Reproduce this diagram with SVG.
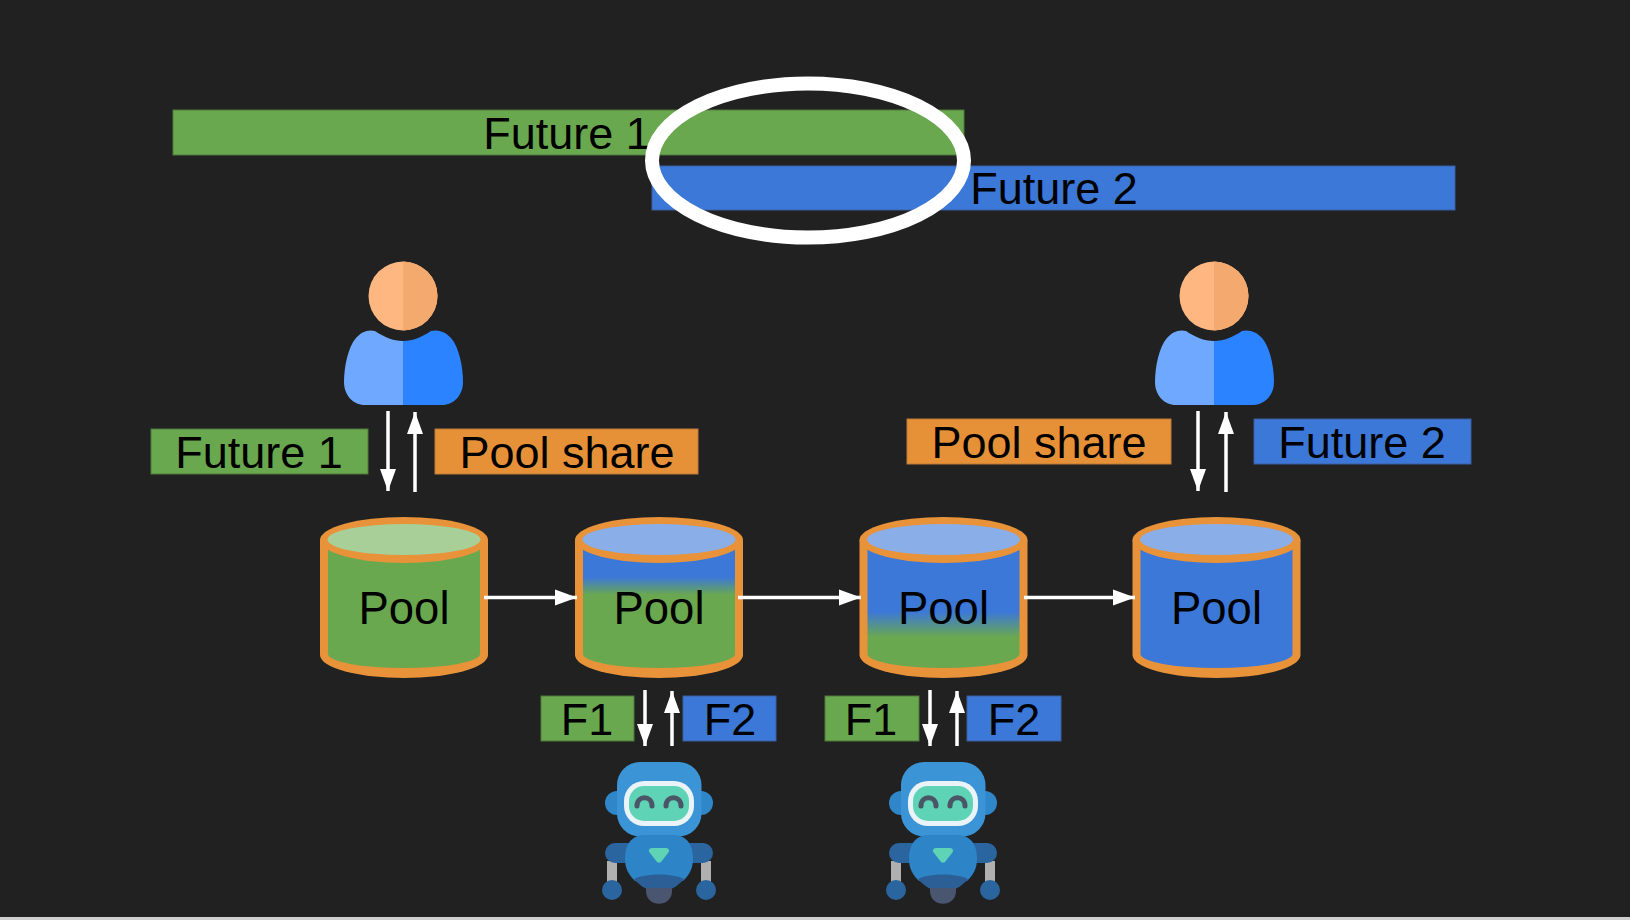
<svg xmlns="http://www.w3.org/2000/svg" width="1630" height="920" viewBox="0 0 1630 920">
  <style>
    text { font-family: "Liberation Sans", Arial, sans-serif; font-size: 45px; fill: #000; text-anchor: middle; }
    text.tank-name { font-size: 45.500px; }
    .green { fill: #6aa84f; stroke: #4f7a3d; stroke-width: 1; }
    .blue { fill: #3c78d8; stroke: #3a5f9c; stroke-width: 1; }
    .orange { fill: #e69138; stroke: #b97a36; stroke-width: 1; }
    .link { stroke: #fff; stroke-width: 3.500; fill: none; }
  </style>
  <defs>
    <marker id="head" markerUnits="userSpaceOnUse" markerWidth="24" markerHeight="18" refX="22" refY="8" orient="auto" overflow="visible">
      <path d="M0 0 L22 8 L0 16 Z" fill="#fff"/>
    </marker>
    <linearGradient id="blueOverGreen" x1="0" y1="0" x2="0" y2="1">
      <stop offset="0.29" stop-color="#3c78d8"/>
      <stop offset="0.43" stop-color="#6aa84f"/>
    </linearGradient>
    <linearGradient id="blueLowGreen" x1="0" y1="0" x2="0" y2="1">
      <stop offset="0.56" stop-color="#3c78d8"/>
      <stop offset="0.76" stop-color="#6aa84f"/>
    </linearGradient>
    <!-- Tank shell, drawn around a centre at x=0 with the lid at y=0 -->
    <path id="tank-shell" d="M-84 0 V115 A84 23 0 0 0 84 115 V0 Z" fill="#e8923a"/>
    <path id="tank-body" d="M-76 0 V114 A76 14 0 0 0 76 114 V0 Z"/>
    <g id="tank-lid">
      <ellipse cx="0" cy="0" rx="84" ry="23" fill="#e8923a"/>
    </g>
    <g id="person">
      <circle cx="0" cy="0" r="34.500" fill="#ffb782"/>
      <path d="M0 -34.500 A34.500 34.500 0 0 1 0 34.500 Z" fill="#f4a96e"/>
      <path d="M0 45 C-10 45 -19 41 -28 35 C-35 33 -42 36 -47 42 C-55 51 -59 71 -59 86 C-59 99 -50 109 -38 109 L0 109 Z" fill="#6ea8ff"/>
      <path d="M0 45 C10 45 19 41 28 35 C35 33 43 36 48 42 C56 51 60 71 60 86 C60 99 51 109 39 109 L0 109 Z" fill="#2b83ff"/>
    </g>
    <g id="robot">
      <circle cx="-42" cy="-36" r="12" fill="#2f86c8"/>
      <circle cx="42" cy="-36" r="12" fill="#2f86c8"/>
      <rect x="-42" y="-77" width="84.500" height="74.500" rx="23" fill="#3a94d6"/>
      <rect x="-35" y="-58" width="70" height="45" rx="20" fill="#eaf3f8"/>
      <rect x="-30" y="-53" width="60" height="35" rx="15" fill="#5fd3b5"/>
      <path d="M-22 -33 C-22 -44 -7 -44 -7 -33 M7 -33 C7 -44 22 -44 22 -33" fill="none" stroke="#4a5566" stroke-width="5" stroke-linecap="round"/>
      <rect x="-52" y="22" width="10" height="22" fill="#b0b0b0"/>
      <rect x="42" y="22" width="10" height="22" fill="#b0b0b0"/>
      <rect x="-54" y="4" width="108" height="20" rx="10" fill="#2a659f"/>
      <circle cx="-47" cy="51" r="10" fill="#2a659f"/>
      <circle cx="47" cy="51" r="10" fill="#2a659f"/>
      <path d="M-34 20 C-34 6 -28 -4 -14 -4 L14 -4 C28 -4 34 6 34 20 C34 30 30 36 24 42 L-24 42 C-30 36 -34 30 -34 20 Z" fill="#2d84c6"/>
      <path d="M-25 40 C-14 34 14 34 25 40 C20 46 14 50 8 51 L-8 51 C-14 50 -20 46 -25 40 Z" fill="#2c5f96"/>
      <path d="M-13 49 V52 C-13 69 13 69 13 52 V49 Z" fill="#4a5670"/>
      <path d="M-7 9 L7 9 C10 9 11 12 9 14 L2 23 C1 24 -1 24 -2 23 L-9 14 C-11 12 -10 9 -7 9 Z" fill="#5fd3b5"/>
    </g>
  </defs>

  <rect width="1630" height="920" fill="#212121"/>
  <rect y="917" width="1630" height="3" fill="#cfcfcf"/>

  <g id="future-1-bar">
    <rect class="green" x="173" y="110" width="791" height="45"/>
    <text x="567" y="149">Future 1</text>
  </g>
  <g id="future-2-bar">
    <rect class="blue" x="652" y="166" width="803" height="44"/>
    <text x="1054" y="204">Future 2</text>
  </g>
  <g id="overlap-ring">
    <ellipse cx="808" cy="160.500" rx="156" ry="77" fill="none" stroke="#fff" stroke-width="14"/>
  </g>

  <g id="provider-1"><use href="#person" x="403" y="296"/></g>
  <g id="provider-2"><use href="#person" x="1214" y="296"/></g>

  <g id="label-future-1"><rect class="green" x="151" y="429" width="217" height="45"/><text x="259" y="468">Future 1</text></g>
  <g id="label-share-1"><rect class="orange" x="435" y="429" width="263" height="45"/><text x="567" y="468">Pool share</text></g>
  <g id="label-share-2"><rect class="orange" x="907" y="419" width="264" height="45"/><text x="1039" y="458">Pool share</text></g>
  <g id="label-future-2"><rect class="blue" x="1254" y="419" width="217" height="45"/><text x="1362" y="458">Future 2</text></g>

  <g id="pool-1">
    <use href="#tank-shell" x="404" y="540"/>
    <use href="#tank-body" x="404" y="540" fill="#6aa84f"/>
    <use href="#tank-lid" x="404" y="540"/>
    <ellipse cx="404" cy="539.500" rx="76.500" ry="15.500" fill="#a8cf97"/>
    <text class="tank-name" x="404" y="624">Pool</text>
  </g>
  <g id="pool-2">
    <use href="#tank-shell" x="659" y="540"/>
    <use href="#tank-body" x="659" y="540" fill="url(#blueOverGreen)"/>
    <use href="#tank-lid" x="659" y="540"/>
    <ellipse cx="659" cy="539.500" rx="76.500" ry="15.500" fill="#8aaee8"/>
    <text class="tank-name" x="659" y="624">Pool</text>
  </g>
  <g id="pool-3">
    <use href="#tank-shell" x="943.500" y="540"/>
    <use href="#tank-body" x="943.500" y="540" fill="url(#blueLowGreen)"/>
    <use href="#tank-lid" x="943.500" y="540"/>
    <ellipse cx="943.500" cy="539.500" rx="76.500" ry="15.500" fill="#8aaee8"/>
    <text class="tank-name" x="943.500" y="624">Pool</text>
  </g>
  <g id="pool-4">
    <use href="#tank-shell" x="1216.500" y="540"/>
    <use href="#tank-body" x="1216.500" y="540" fill="#3c78d8"/>
    <use href="#tank-lid" x="1216.500" y="540"/>
    <ellipse cx="1216.500" cy="539.500" rx="76.500" ry="15.500" fill="#8aaee8"/>
    <text class="tank-name" x="1216.500" y="624">Pool</text>
  </g>

  <g id="label-f1-a"><rect class="green" x="541" y="696" width="93" height="45"/><text x="587" y="735">F1</text></g>
  <g id="label-f2-a"><rect class="blue" x="683" y="696" width="93" height="45"/><text x="730" y="735">F2</text></g>
  <g id="label-f1-b"><rect class="green" x="825" y="696" width="94" height="45"/><text x="871" y="735">F1</text></g>
  <g id="label-f2-b"><rect class="blue" x="967" y="696" width="94" height="45"/><text x="1014" y="735">F2</text></g>

  <g id="bot-1"><use href="#robot" x="659" y="839"/></g>
  <g id="bot-2"><use href="#robot" x="943" y="839"/></g>

  <g id="connectors">
    <line class="link" x1="388" y1="411" x2="388" y2="491" marker-end="url(#head)"/>
    <line class="link" x1="415" y1="492" x2="415" y2="412" marker-end="url(#head)"/>
    <line class="link" x1="1198" y1="411" x2="1198" y2="491" marker-end="url(#head)"/>
    <line class="link" x1="1226" y1="492" x2="1226" y2="412" marker-end="url(#head)"/>
    <line class="link" x1="484" y1="597.500" x2="577" y2="597.500" marker-end="url(#head)"/>
    <line class="link" x1="738" y1="597.500" x2="861" y2="597.500" marker-end="url(#head)"/>
    <line class="link" x1="1024" y1="597.500" x2="1135" y2="597.500" marker-end="url(#head)"/>
    <line class="link" x1="645" y1="690" x2="645" y2="746" marker-end="url(#head)"/>
    <line class="link" x1="672" y1="746" x2="672" y2="691" marker-end="url(#head)"/>
    <line class="link" x1="930" y1="690" x2="930" y2="746" marker-end="url(#head)"/>
    <line class="link" x1="957" y1="746" x2="957" y2="691" marker-end="url(#head)"/>
  </g>
</svg>
